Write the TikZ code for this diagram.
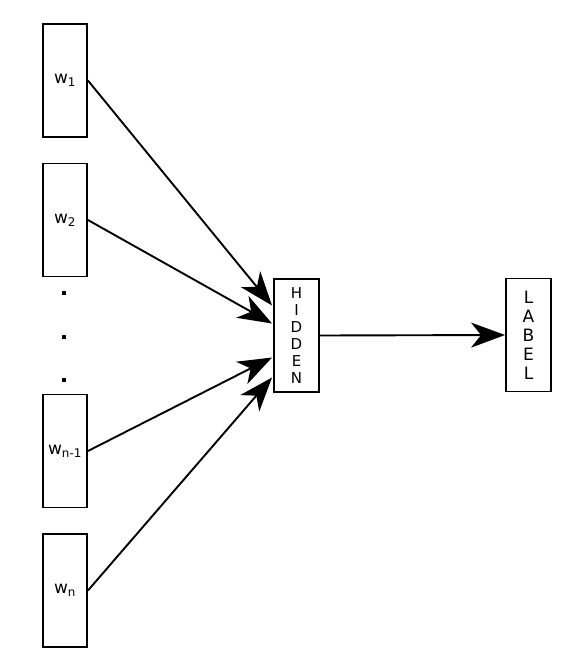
\documentclass[tikz,border=0pt]{standalone}
\usepackage{fontspec}
\setmainfont{DejaVu Sans}
\usetikzlibrary{arrows.meta,calc}
\begin{document}
\begin{tikzpicture}[x=1pt,y=-1pt,
  inbox/.style={draw,line width=1.9pt,minimum width=44pt,minimum height=113pt,inner sep=0pt,font=\fontsize{17}{20}\selectfont},
  midbox/.style={draw,line width=1.9pt,minimum width=45pt,minimum height=113pt,inner sep=0pt,align=center},
  conn/.style={line width=1.9pt,-{Stealth[length=34pt,width=25pt,inset=10pt]}},
  dotmark/.style={fill=black,minimum size=4.5pt,inner sep=0pt}]
\useasboundingbox (0,0) rectangle (566,653);
\node[inbox] (w1) at (65,80.5) {w\textsubscript{1}};
\node[inbox] (w2) at (65,220) {w\textsubscript{2}};
\node[inbox] (wn1) at (65,451) {w\textsubscript{n-1}};
\node[inbox] (wn) at (65,590.5) {w\textsubscript{n}};
\node[dotmark] (d1) at (64,293) {};
\node[dotmark] (d2) at (64,337) {};
\node[dotmark] (d3) at (64,380) {};
\node[midbox,font=\fontsize{15}{17}\selectfont] (h) at (296.5,335.5) {H\\I\\D\\D\\E\\N};
\node[midbox,font=\fontsize{17}{19}\selectfont] (l) at (528.5,335) {L\\A\\B\\E\\L};
\coordinate (h1) at ($(h.west)+(-1,-30)$);
\coordinate (h2) at ($(h.west)+(-1,-12)$);
\coordinate (h3) at ($(h.west)+(-1,22)$);
\coordinate (h4) at ($(h.west)+(-1,42)$);
\draw[conn] (w1.east) -- (h1);
\draw[conn] (w2.east) -- (h2);
\draw[conn] (wn1.east) -- (h3);
\draw[conn] (wn.east) -- (h4);
\draw[conn] (h.east) -- (l.west);
\end{tikzpicture}
\end{document}
